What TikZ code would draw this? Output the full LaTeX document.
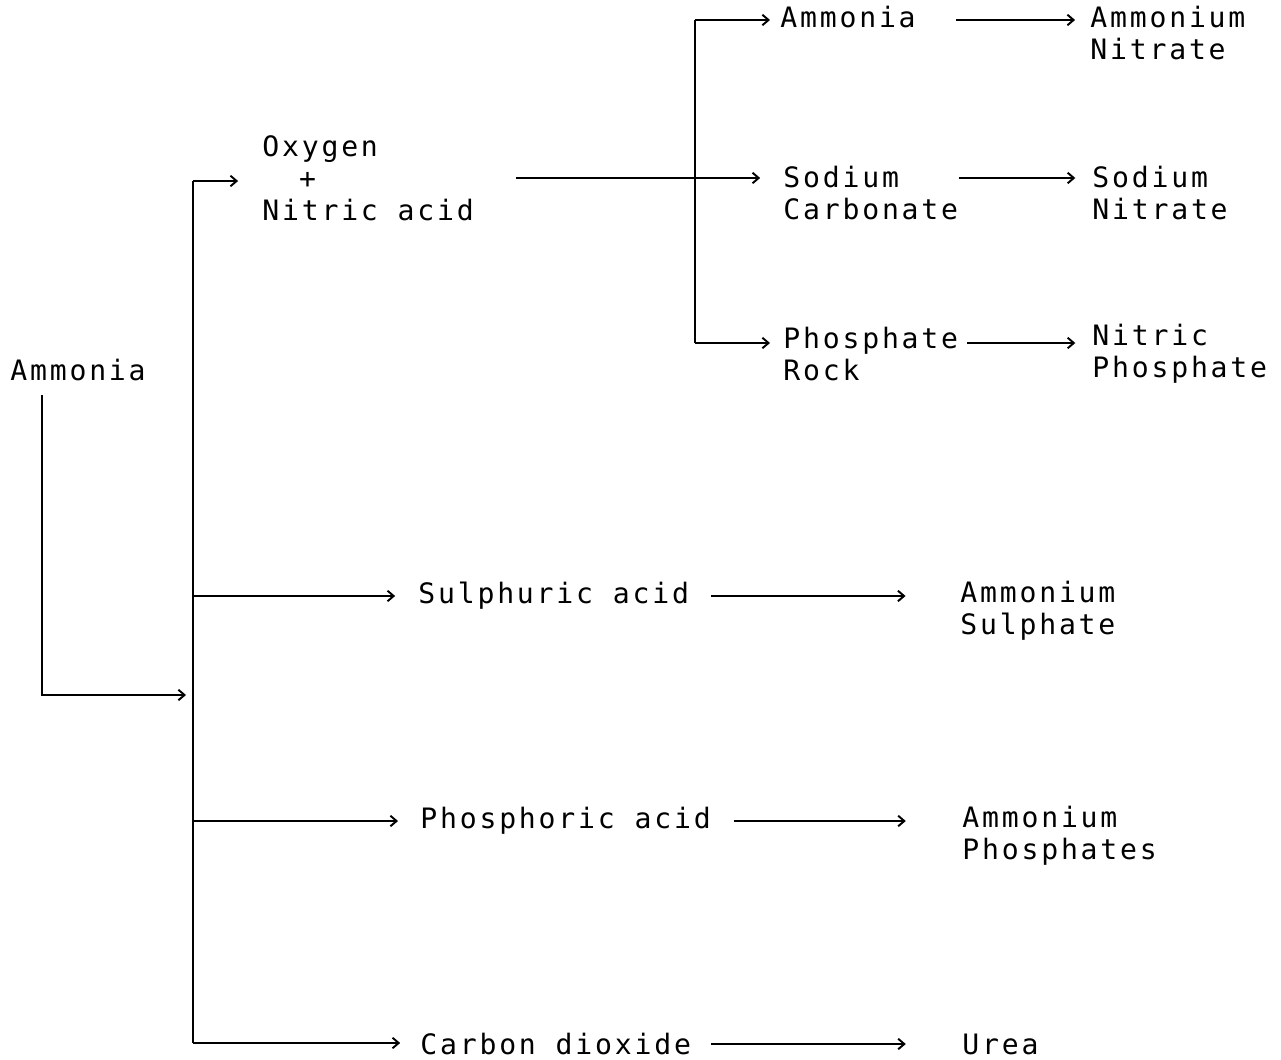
\documentclass[tikz,border=0pt]{standalone}
\usepackage{fontspec}
\newfontfamily\dotfont{DejaVu Sans Mono}[LetterSpace=10]
\usetikzlibrary{arrows.meta}

\begin{document}
\begin{tikzpicture}[x=0.02cm,y=-0.02cm,
    lbl/.style={anchor=west,inner sep=0pt,align=left,font=\dotfont\fontsize{16}{18.2}\selectfont},
    flow/.style={line width=1.1pt,-{Straight Barb[length=3.5pt,width=6pt]}},
    trunk/.style={line width=1.4pt}]
    \useasboundingbox (0,0) rectangle (1281,1060);
    % labels
    \node[lbl] (amm) at (10,370) {Ammonia};
    \node[lbl] (oxy) at (262,178) {Oxygen\\\hphantom{Ox}+\\Nitric acid};
    \node[lbl] (ammB) at (780,17) {Ammonia};
    \node[lbl] (sodC) at (783,193) {Sodium\\Carbonate};
    \node[lbl] (phR) at (783,354) {Phosphate\\Rock};
    \node[lbl] (amN) at (1090,33) {Ammonium\\Nitrate};
    \node[lbl] (soN) at (1092,193) {Sodium\\Nitrate};
    \node[lbl] (niP) at (1092,354) {Nitric\\Phosphate};
    \node[lbl] (sul) at (418,596) {Sulphuric acid};
    \node[lbl] (amS) at (960,611) {Ammonium\\Sulphate};
    \node[lbl] (pho) at (420,821) {Phosphoric acid};
    \node[lbl] (amP) at (962,836) {Ammonium\\Phosphates};
    \node[lbl] (co2) at (420,1044) {Carbon dioxide};
    \node[lbl] (urea) at (962,1044) {Urea};
    % elbows
    \coordinate (feed) at (186,695);
    \coordinate (tTop) at (193,181);
    \coordinate (tBot) at (193,1043);
    \coordinate (bTop) at (695,20);
    \coordinate (bBot) at (695,343);
    % ammonia into the trunk
    \draw[flow] ([shift={(32,14)}]amm.south west) |- (feed);
    \draw[trunk] (tTop) -- (tBot);
    \draw[flow,shorten >=13.6pt] (tTop) -- (tTop -| oxy.west);
    \draw[flow,shorten >=13pt] (sul.west -| tTop) -- (sul.west);
    \draw[flow,shorten >=12.5pt] (pho.west -| tTop) -- (pho.west);
    \draw[flow,shorten >=11.3pt] (tBot) -- (tBot -| co2.west);
    % nitric acid branch
    \draw[trunk] (bTop) -- (bBot);
    \draw[flow,shorten <=24pt,shorten >=13pt] (oxy.east) -- (oxy.east -| sodC.west);
    \draw[flow,shorten >=5.7pt] (bTop) -- (bTop -| ammB.west);
    \draw[flow,shorten >=7.4pt] (bBot) -- (bBot -| phR.west);
    \draw[flow,shorten <=22.7pt,shorten >=8.5pt] (bTop -| ammB.east) -- (bTop -| amN.west);
    \draw[flow,shorten >=9.5pt] (oxy.east -| sodC.east) -- (oxy.east -| soN.west);
    \draw[flow,shorten <=5pt,shorten >=9.5pt] (bBot -| phR.east) -- (bBot -| niP.west);
    % products
    \draw[flow,shorten <=12.5pt,shorten >=31pt] (sul.east) -- (sul.east -| amS.west);
    \draw[flow,shorten <=13pt,shorten >=32pt] (pho.east) -- (pho.east -| amP.west);
    \draw[flow,shorten <=11.3pt,shorten >=32pt] (co2.east) -- (co2.east -| urea.west);
\end{tikzpicture}
\end{document}
